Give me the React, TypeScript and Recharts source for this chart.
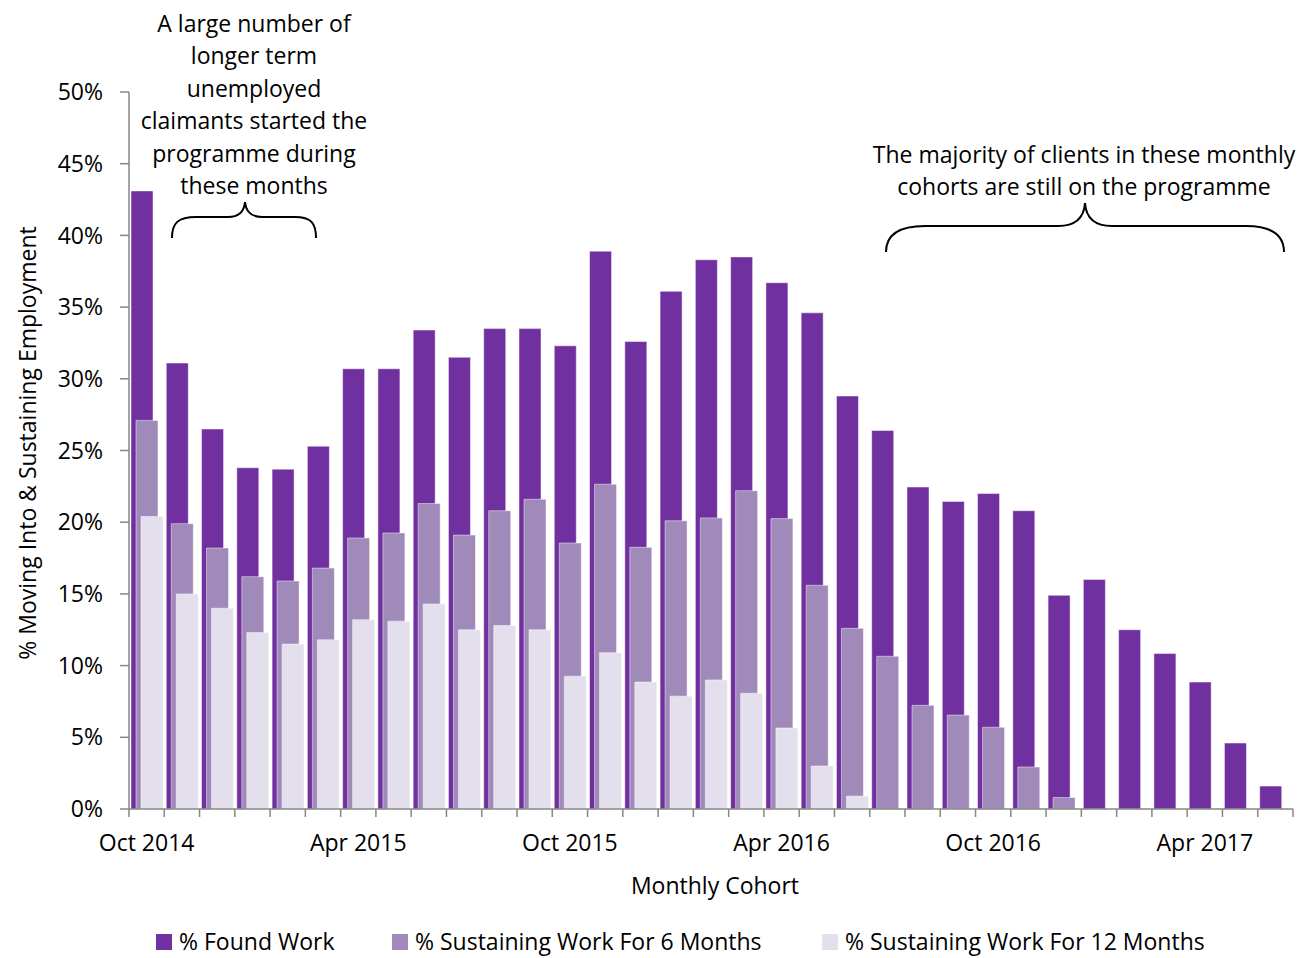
import { BarChart, Bar, XAxis, YAxis } from 'recharts'

const months = [
  'Oct 2014', 'Nov 2014', 'Dec 2014',
  'Jan 2015', 'Feb 2015', 'Mar 2015', 'Apr 2015', 'May 2015', 'Jun 2015',
  'Jul 2015', 'Aug 2015', 'Sep 2015', 'Oct 2015', 'Nov 2015', 'Dec 2015',
  'Jan 2016', 'Feb 2016', 'Mar 2016', 'Apr 2016', 'May 2016', 'Jun 2016',
  'Jul 2016', 'Aug 2016', 'Sep 2016', 'Oct 2016', 'Nov 2016', 'Dec 2016',
  'Jan 2017', 'Feb 2017', 'Mar 2017', 'Apr 2017', 'May 2017', 'Jun 2017',
]

const foundWork = [
  43.1, 31.1, 26.5, 23.8, 23.7, 25.3, 30.7, 30.7, 33.4, 31.5, 33.5,
  33.5, 32.3, 38.9, 32.6, 36.1, 38.3, 38.5, 36.7, 34.6, 28.8, 26.4,
  22.45, 21.45, 22.0, 20.8, 14.9, 16.0, 12.5, 10.85, 8.85, 4.6, 1.6,
]

const sixMonths = [
  27.1, 19.9, 18.2, 16.2, 15.9, 16.8, 18.9, 19.25, 21.3, 19.1, 20.8,
  21.6, 18.55, 22.65, 18.25, 20.1, 20.3, 22.2, 20.25, 15.6, 12.6, 10.65,
  7.23, 6.55, 5.7, 2.93, 0.8, null, null, null, null, null, null,
]

const twelveMonths = [
  20.4, 15.0, 14.0, 12.3, 11.5, 11.8, 13.2, 13.1, 14.3, 12.5, 12.8,
  12.5, 9.26, 10.9, 8.85, 7.87, 9.0, 8.07, 5.65, 3.0, 0.9, null,
  null, null, null, null, null, null, null, null, null, null, null,
]

const shownTicks = ['Oct 2014', 'Apr 2015', 'Oct 2015', 'Apr 2016', 'Oct 2016', 'Apr 2017']
const yTicks = [0, 5, 10, 15, 20, 25, 30, 35, 40, 45, 50]

const seriesNames = ['% Found Work', '% Sustaining Work For 6 Months', '% Sustaining Work For 12 Months']
const colors = ['#7030a0', '#a08ab9', '#e4dfec']

const data = months.map((m, i) => ({
  month: m,
  found: foundWork[i],
  six: sixMonths[i],
  twelve: twelveMonths[i],
}))

const FONT = '"Open Sans", sans-serif'
const FS = 23
const AXIS = '#868686'
const W = 1314
const H = 958
const PLOT_LEFT = 129
const PLOT_RIGHT = 1293
const PLOT_BOTTOM = 809
const BAND = (PLOT_RIGHT - PLOT_LEFT) / months.length

// category ticks sit between the bars, labels only every 6 months
function MonthTick(props: any) {
  const { x, payload, index } = props
  const left = x - BAND / 2
  const last = index === months.length - 1
  return (
    <g>
      <line x1={left} x2={left} y1={PLOT_BOTTOM} y2={PLOT_BOTTOM + 8} stroke={AXIS} strokeWidth={1.5} />
      {last && (
        <line x1={left + BAND} x2={left + BAND} y1={PLOT_BOTTOM} y2={PLOT_BOTTOM + 8} stroke={AXIS} strokeWidth={1.5} />
      )}
      {shownTicks.includes(payload.value) && (
        <text x={x} y={PLOT_BOTTOM + 42} textAnchor="middle" fill="#000" fontSize={FS} fontFamily={FONT}>
          {payload.value}
        </text>
      )}
    </g>
  )
}

const leftNote = [
  'A large number of',
  'longer term',
  'unemployed',
  'claimants started the',
  'programme during',
  'these months',
]
const rightNote = ['The majority of clients in these monthly', 'cohorts are still on the programme']
const legendX = [156, 392, 822]

export default function App() {
  return (
    <div style={{ position: 'absolute', left: 0, top: 0, width: W, height: H, background: '#fff', overflow: 'hidden' }}>
      <BarChart
        width={W}
        height={H}
        data={data}
        margin={{ top: 92, right: W - PLOT_RIGHT, bottom: 109, left: 0 }}
        barSize={22}
        barGap={-17}
      >
        <XAxis
          dataKey="month"
          height={40}
          interval={0}
          tickLine={false}
          axisLine={{ stroke: AXIS, strokeWidth: 1.5 }}
          tick={<MonthTick />}
        />
        <YAxis
          width={PLOT_LEFT}
          domain={[0, 50]}
          ticks={yTicks}
          interval={0}
          tickSize={9}
          tickMargin={17}
          tickFormatter={(v) => `${v}%`}
          axisLine={{ stroke: AXIS, strokeWidth: 1.5 }}
          tickLine={{ stroke: AXIS, strokeWidth: 1.5 }}
          tick={{ fill: '#000', fontSize: FS, fontFamily: FONT }}
        />
        <Bar dataKey="found" name={seriesNames[0]} fill={colors[0]} stroke="#ffffff" strokeOpacity={0.6} strokeWidth={0.8} isAnimationActive={false} />
        <Bar dataKey="six" name={seriesNames[1]} fill={colors[1]} stroke="#ffffff" strokeOpacity={0.6} strokeWidth={0.8} isAnimationActive={false} />
        <Bar dataKey="twelve" name={seriesNames[2]} fill={colors[2]} stroke="#ffffff" strokeOpacity={0.6} strokeWidth={0.8} isAnimationActive={false} />
      </BarChart>

      <svg width={W} height={H} style={{ position: 'absolute', left: 0, top: 0, pointerEvents: 'none' }}>
        <g fontFamily={FONT} fontSize={FS} fill="#000">
          {leftNote.map((line, i) => (
            <text key={line} x={254} y={31.5 + i * 32.5} textAnchor="middle">{line}</text>
          ))}
          {rightNote.map((line, i) => (
            <text key={line} x={1084} y={163 + i * 32} textAnchor="middle">{line}</text>
          ))}
          <text x={715} y={894} textAnchor="middle">Monthly Cohort</text>
          <text x={36} y={443} textAnchor="middle" transform="rotate(-90 36 443)">
            % Moving Into &amp; Sustaining Employment
          </text>
          {seriesNames.map((name, i) => (
            <g key={name}>
              <rect x={legendX[i]} y={934} width={16} height={16} fill={colors[i]} />
              <text x={legendX[i] + 23} y={950}>{name}</text>
            </g>
          ))}
        </g>
        <g fill="none" stroke="#000" strokeWidth={2}>
          <path d="M172,238 C172,223 178,217 196,217 L228,217 C238,217 244,213 245,202 C246,213 252,217 262,217 L295,217 C311,217 316,223 316,238" />
          <path d="M886,252 C886,234 900,226 925,226 L1058,226 C1075,226 1084,218 1085,203 C1086,218 1095,226 1112,226 L1246,226 C1271,226 1284,234 1284,252" />
        </g>
      </svg>
    </div>
  )
}
